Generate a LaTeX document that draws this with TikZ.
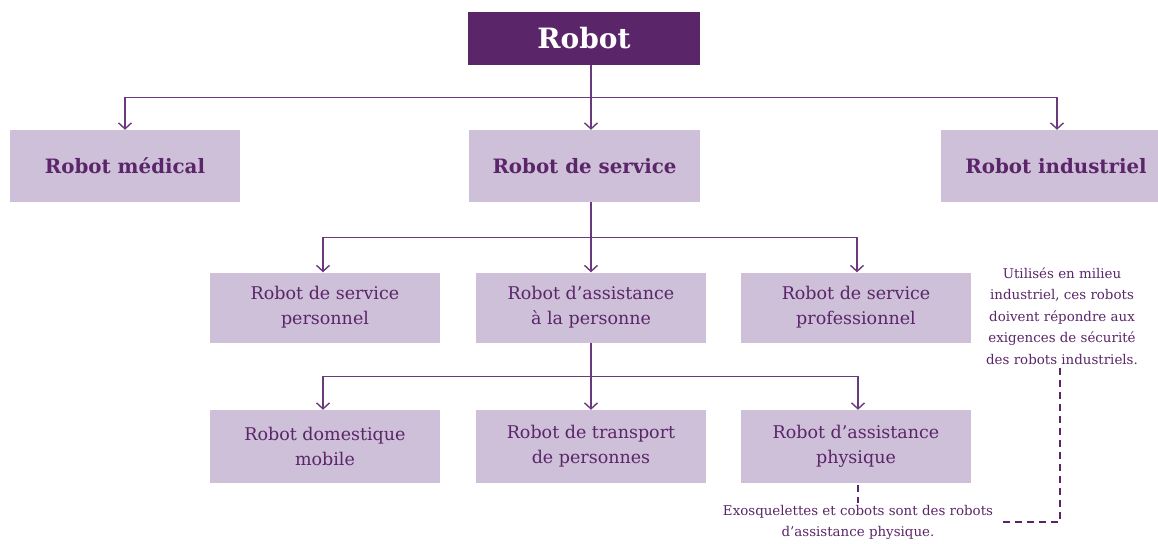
\documentclass[tikz,border=0pt]{standalone}
\usepackage{fontspec}
\setmainfont{DejaVu Serif}
\usetikzlibrary{arrows.meta,calc}
\definecolor{dark}{HTML}{5B2669}
\definecolor{light}{HTML}{CEC0D8}
\definecolor{txt}{HTML}{5A2569}
\definecolor{ln}{HTML}{6B3A7E}
\tikzset{
  topbox/.style={fill=dark,text=white,font=\bfseries\fontsize{28}{30}\selectfont,minimum width=232pt,minimum height=53pt,inner sep=0pt},
  lvlone/.style={fill=light,text=txt,font=\bfseries\fontsize{19.8}{22}\selectfont,minimum height=72pt,inner sep=0pt},
  lvltwo/.style={fill=light,text=txt,font=\fontsize{17.5}{25}\selectfont,align=center,minimum width=230pt,minimum height=70pt,inner sep=0pt},
  note/.style={text=txt,font=\fontsize{13.4}{21.5}\selectfont,align=center,inner sep=0pt},
  conn/.style={draw=ln,line width=1.4pt,-{Straight Barb[length=6pt,width=13pt,line width=1.4pt]}},
  plain/.style={draw=ln,line width=1.4pt},
  dashline/.style={draw=dark,line width=1.4pt,dash pattern=on 7pt off 5pt}
}
\begin{document}
\begin{tikzpicture}[x=1pt,y=-1pt]
\useasboundingbox (0,0) rectangle (1158,543);
\begin{scope}
\clip (0,0) rectangle (1158,543);
\node[topbox] (robot) at (584,38.5) {Robot};
\node[lvlone,minimum width=230pt] (med) at (125,166) {Robot médical};
\node[lvlone,minimum width=231pt] (serv) at (584.5,166) {Robot de service};
\node[lvlone,minimum width=230pt] (ind) at (1056,166) {Robot industriel};
\end{scope}

\node[lvltwo] (pers) at (325,307.5) {Robot de service\\personnel};
\node[lvltwo] (assist) at (591,307.5) {Robot d’assistance\\à la personne};
\node[lvltwo] (pro) at (856,307.5) {Robot de service\\professionnel};

\node[lvltwo,minimum height=73pt] (dom) at (325,446.5) {Robot domestique\\mobile};
\node[lvltwo,minimum height=73pt] (trans) at (591,446.5) {Robot de transport\\de personnes};
\node[lvltwo,minimum height=73pt] (phys) at (856,446.5) {Robot d’assistance\\physique};

% level 1 connectors
\coordinate (r0) at ($(robot.south)+(7,0)$);
\coordinate (j1) at ($(r0)+(0,32)$);
\draw[plain] (r0) -- (j1);
\draw[conn] (j1) -| (med.north);
\draw[conn] (j1) -- ($(serv.north)+(6.5,0)$);
\draw[conn] (j1) -| ($(ind.north)+(1,0)$);

% level 2
\coordinate (s0) at ($(serv.south)+(6.5,0)$);
\coordinate (j2) at ($(s0)+(0,35)$);
\draw[plain] (s0) -- (j2);
\draw[conn] (j2) -| ($(pers.north)+(-2,0)$);
\draw[conn] (j2) -- (assist.north);
\draw[conn] (j2) -| ($(pro.north)+(1,0)$);

% level 3
\coordinate (j3) at ($(assist.south)+(0,34)$);
\draw[plain] (assist.south) -- (j3);
\draw[conn] (j3) -| ($(dom.north)+(-2,0)$);
\draw[conn] (j3) -- (trans.north);
\draw[conn] (j3) -| ($(phys.north)+(2,0)$);

% notes
\node[note] (n1) at (1062,316) {Utilisés en milieu\\industriel, ces robots\\doivent répondre aux\\exigences de sécurité\\des robots industriels.};
\node[note] (n2) at (858,522.5) {Exosquelettes et cobots sont des robots\\d’assistance physique.};
\coordinate (c1) at (1000,522);
\draw[dashline] ($(n1.south)+(-2,3)$) |- (c1);
\draw[dashline] ($(phys.south)+(2,2)$) -- ($(n2.north)+(0,-2)$);
\end{tikzpicture}
\end{document}
